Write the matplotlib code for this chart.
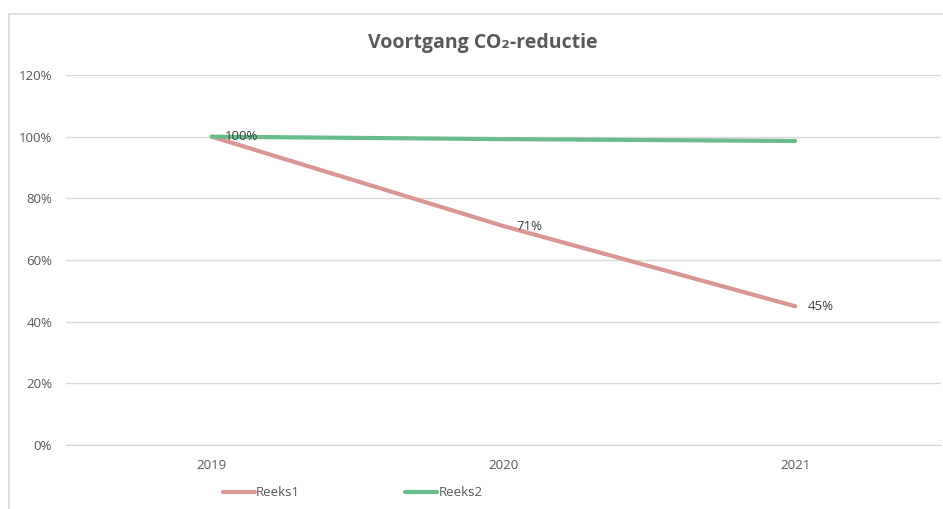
import matplotlib
matplotlib.use("Agg")
import matplotlib.pyplot as plt
from matplotlib.lines import Line2D
from matplotlib.patches import Rectangle

years = ["2019", "2020", "2021"]
reeks1 = [1.00, 0.71, 0.45]
reeks2 = [1.00, 0.992, 0.986]
reeks1_labels = ["100%", "71%", "45%"]
y_ticks = [0, 0.2, 0.4, 0.6, 0.8, 1.0, 1.2]

RED = "#DA9694"
GREEN = "#68BD8A"
GRID = "#D9D9D9"
TXT = "#595959"

plt.rcParams["font.family"] = ["Open Sans", "DejaVu Sans"]

W, H = 943, 509
fig = plt.figure(figsize=(W / 100, H / 100), dpi=100)

# chart border (cut off at right/bottom like the screenshot)
fig.patches.append(Rectangle((9 / W, -0.1), 1.0, 1 - 14 / H + 0.1, transform=fig.transFigure,
                             fill=False, edgecolor=GRID, linewidth=1.2))

left, right, bottom, top = 66 / W, 941 / W, (H - 445) / H, (H - 75) / H
ax = fig.add_axes([left, bottom, right - left, top - bottom])

x = list(range(len(years)))
ax.plot(x, reeks1, color=RED, linewidth=3, solid_capstyle="round", zorder=3)
ax.plot(x, reeks2, color=GREEN, linewidth=3, solid_capstyle="round", zorder=4)

for xi, yi, lab in zip(x, reeks1, reeks1_labels):
    ax.annotate(lab, (xi, yi), xytext=(9, 0), textcoords="offset points",
                ha="left", va="center", fontsize=9.5, color="#404040", zorder=5)

ax.set_xlim(-0.5, len(years) - 0.5)
ax.set_ylim(0, 1.2)
ax.set_yticks(y_ticks)
ax.set_yticklabels([f"{int(round(v * 100))}%" for v in y_ticks])
ax.set_xticks(x)
ax.set_xticklabels(years)
ax.grid(axis="y", color=GRID, linewidth=1)
ax.set_axisbelow(True)
for s in ["top", "right", "left"]:
    ax.spines[s].set_visible(False)
ax.spines["bottom"].set_color(GRID)
ax.tick_params(axis="both", length=0, colors=TXT, labelsize=9.5)
ax.tick_params(axis="y", pad=10)
ax.tick_params(axis="x", pad=10)

fig.text(483 / W, 1 - 43 / H, "Voortgang CO\u2082-reductie", ha="center", va="center",
         fontsize=14, fontweight="bold", color=TXT)

handles = [Line2D([], [], color=RED, linewidth=3, solid_capstyle="round"),
           Line2D([], [], color=GREEN, linewidth=3, solid_capstyle="round")]
fig.legend(handles, ["Reeks1", "Reeks2"], loc="center left",
           bbox_to_anchor=(211 / W, 1 - 493 / H), ncol=2, frameon=False,
           fontsize=9.5, labelcolor=TXT, handlelength=2.4, handletextpad=0.1,
           columnspacing=8.0)

fig.savefig("out.png", dpi=100)
